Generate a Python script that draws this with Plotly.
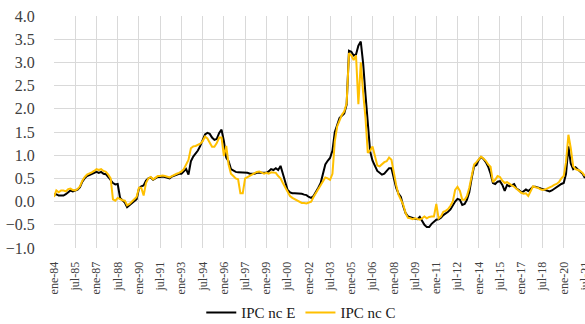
import pandas as pd
import plotly.graph_objects as go

# Bimonthly observations (ene, mar, may, jul, sep, nov), ene-84 to jul-21
periods = pd.date_range("1984-01-01", "2021-07-01", freq="2MS")

ipc_nc_e = [
    0.15, 0.16, 0.13, 0.13, 0.13, 0.16,   # 1984
    0.21, 0.24, 0.22, 0.24, 0.26, 0.31,   # 1985
    0.43, 0.50, 0.55, 0.57, 0.59, 0.62,   # 1986
    0.64, 0.62, 0.64, 0.60, 0.59, 0.53,   # 1987
    0.47, 0.40, 0.37, 0.38, 0.08, 0.03,   # 1988
    -0.02, -0.12, -0.08, -0.02, 0.02, 0.05,  # 1989
    0.28, 0.33, 0.35, 0.45, 0.50, 0.52,   # 1990
    0.47, 0.50, 0.53, 0.53, 0.54, 0.53,   # 1991
    0.52, 0.50, 0.54, 0.56, 0.58, 0.60,   # 1992
    0.60, 0.64, 0.70, 0.58, 0.87, 0.97,   # 1993
    1.03, 1.10, 1.20, 1.31, 1.45, 1.48,   # 1994
    1.46, 1.38, 1.33, 1.35, 1.48, 1.55,   # 1995
    1.30, 0.95, 0.87, 0.70, 0.66, 0.64,   # 1996
    0.63, 0.63, 0.63, 0.63, 0.62, 0.60,   # 1997
    0.60, 0.60, 0.62, 0.62, 0.62, 0.62,   # 1998
    0.62, 0.65, 0.70, 0.68, 0.72, 0.68,   # 1999
    0.77, 0.60, 0.40, 0.25, 0.20, 0.18,   # 2000
    0.18, 0.18, 0.17, 0.17, 0.15, 0.14,   # 2001
    0.10, 0.08, 0.12, 0.20, 0.30, 0.40,   # 2002
    0.62, 0.80, 0.88, 0.94, 1.10, 1.50,   # 2003
    1.65, 1.80, 1.85, 1.90, 2.09, 3.25,   # 2004
    3.23, 3.15, 3.17, 3.36, 3.45, 2.98,   # 2005
    2.30, 1.65, 1.08, 0.88, 0.76, 0.66,   # 2006
    0.62, 0.58, 0.60, 0.65, 0.72, 0.72,   # 2007
    0.50, 0.30, 0.17, 0.10, -0.10, -0.25,  # 2008
    -0.32, -0.33, -0.35, -0.37, -0.38, -0.33,  # 2009
    -0.43, -0.50, -0.55, -0.55, -0.48, -0.43,  # 2010
    -0.39, -0.38, -0.35, -0.29, -0.26, -0.22,  # 2011
    -0.17, -0.08, 0.00, 0.06, 0.04, -0.07,  # 2012
    -0.05, 0.04, 0.20, 0.50, 0.76, 0.79,   # 2013
    0.90, 0.96, 0.92, 0.85, 0.75, 0.60,   # 2014
    0.40, 0.38, 0.43, 0.44, 0.36, 0.23,   # 2015
    0.36, 0.33, 0.36, 0.38, 0.28, 0.25,   # 2016
    0.20, 0.22, 0.26, 0.23, 0.27, 0.32,   # 2017
    0.32, 0.31, 0.29, 0.27, 0.25, 0.23,   # 2018
    0.22, 0.24, 0.28, 0.32, 0.35, 0.38,   # 2019
    0.40, 0.60, 1.19, 0.82, 0.70, 0.74,   # 2020
    0.69, 0.65, 0.60, 0.51,               # 2021
]

ipc_nc_c = [
    0.10, 0.24, 0.20, 0.24, 0.24, 0.22,   # 1984
    0.27, 0.28, 0.25, 0.24, 0.27, 0.33,   # 1985
    0.45, 0.53, 0.58, 0.60, 0.63, 0.66,   # 1986
    0.70, 0.68, 0.70, 0.66, 0.64, 0.58,   # 1987
    0.50, 0.05, 0.02, 0.08, 0.05, 0.03,   # 1988
    0.02, -0.08, -0.05, 0.00, 0.06, 0.10,  # 1989
    0.30, 0.30, 0.13, 0.40, 0.50, 0.53,   # 1990
    0.48, 0.52, 0.55, 0.55, 0.56, 0.55,   # 1991
    0.53, 0.52, 0.55, 0.58, 0.60, 0.62,   # 1992
    0.65, 0.70, 0.80, 0.90, 1.15, 1.19,   # 1993
    1.20, 1.22, 1.25, 1.30, 1.40, 1.36,   # 1994
    1.26, 1.18, 1.18, 1.26, 1.38, 1.38,   # 1995
    0.98, 1.20, 0.80, 0.60, 0.55, 0.50,   # 1996
    0.48, 0.18, 0.18, 0.50, 0.53, 0.56,   # 1997
    0.60, 0.62, 0.64, 0.65, 0.63, 0.60,   # 1998
    0.62, 0.60, 0.63, 0.63, 0.62, 0.55,   # 1999
    0.50, 0.40, 0.30, 0.20, 0.12, 0.08,   # 2000
    0.05, 0.02, 0.00, -0.03, -0.03, -0.04,  # 2001
    -0.02, 0.00, 0.10, 0.18, 0.28, 0.35,  # 2002
    0.44, 0.52, 0.50, 0.47, 0.60, 1.30,   # 2003
    1.62, 1.75, 1.87, 1.94, 2.12, 3.20,   # 2004
    3.15, 3.05, 3.15, 2.10, 3.00, 2.34,   # 2005
    1.80, 1.05, 1.10, 1.19, 0.95, 0.78,   # 2006
    0.76, 0.80, 0.85, 0.87, 0.95, 0.90,   # 2007
    0.58, 0.36, 0.15, 0.05, -0.07, -0.25,  # 2008
    -0.35, -0.36, -0.38, -0.36, -0.37, -0.39,  # 2009
    -0.36, -0.32, -0.36, -0.33, -0.32, -0.32,  # 2010
    -0.05, -0.36, -0.32, -0.22, -0.20, -0.16,  # 2011
    -0.09, 0.00, 0.25, 0.32, 0.23, 0.04,  # 2012
    0.04, 0.12, 0.30, 0.55, 0.80, 0.85,   # 2013
    0.92, 0.97, 0.93, 0.88, 0.80, 0.75,   # 2014
    0.42, 0.47, 0.55, 0.53, 0.45, 0.40,   # 2015
    0.42, 0.38, 0.35, 0.32, 0.28, 0.22,   # 2016
    0.19, 0.17, 0.18, 0.12, 0.24, 0.33,   # 2017
    0.31, 0.30, 0.27, 0.25, 0.26, 0.28,   # 2018
    0.31, 0.33, 0.36, 0.38, 0.42, 0.50,   # 2019
    0.55, 0.85, 1.44, 1.15, 0.76, 0.70,   # 2020
    0.68, 0.66, 0.62, 0.55,               # 2021
]

# Category labels every 18 months
tick_dates = pd.date_range("1984-01-01", "2021-07-01", freq="18MS")
tick_labels = [
    "ene-84", "jul-85", "ene-87", "jul-88", "ene-90", "jul-91", "ene-93",
    "jul-94", "ene-96", "jul-97", "ene-99", "jul-00", "ene-02", "jul-03",
    "ene-05", "jul-06", "ene-08", "jul-09", "ene-11", "jul-12", "ene-14",
    "jul-15", "ene-17", "jul-18", "ene-20", "jul-21",
]

FONT = "Liberation Serif"
TEXT = "#404040"
GRID = "#D9D9D9"

fig = go.Figure()
fig.add_trace(go.Scatter(
    x=periods, y=ipc_nc_e, name="IPC nc E", mode="lines",
    line=dict(color="#000000", width=2),
))
fig.add_trace(go.Scatter(
    x=periods, y=ipc_nc_c, name="IPC nc C", mode="lines",
    line=dict(color="#FFC000", width=2),
))

fig.update_layout(
    width=585, height=324,
    margin=dict(l=54, r=0, t=16, b=76, autoexpand=False),
    paper_bgcolor="white", plot_bgcolor="white",
    font=dict(family=FONT, color=TEXT),
    showlegend=True,
    legend=dict(
        orientation="h",
        xref="container", x=0.515, xanchor="center",
        yref="container", y=0.035, yanchor="middle",
        font=dict(family=FONT, size=15, color="#202020"),
        itemwidth=30, tracegroupgap=0,
    ),
)
fig.update_xaxes(
    type="date",
    range=["1984-01-01", "2021-07-03"],
    tickmode="array", tickvals=tick_dates, ticktext=tick_labels,
    tickangle=-90, tickfont=dict(family=FONT, size=12, color=TEXT),
    ticklabeloverflow="allow",
    showgrid=True, gridcolor=GRID, gridwidth=1,
    ticks="outside", ticklen=8, tickcolor="rgba(0,0,0,0)",
    showline=False, zeroline=False, automargin=False,
)
fig.update_yaxes(
    range=[-1.0, 4.0], dtick=0.5, tick0=0, tickformat=".1f",
    tickfont=dict(family=FONT, size=16, color=TEXT),
    showgrid=True, gridcolor=GRID, gridwidth=1,
    ticks="outside", ticklen=15, tickcolor="rgba(0,0,0,0)",
    showline=False, zeroline=False, automargin=False,
)

fig.write_html("out.html")
